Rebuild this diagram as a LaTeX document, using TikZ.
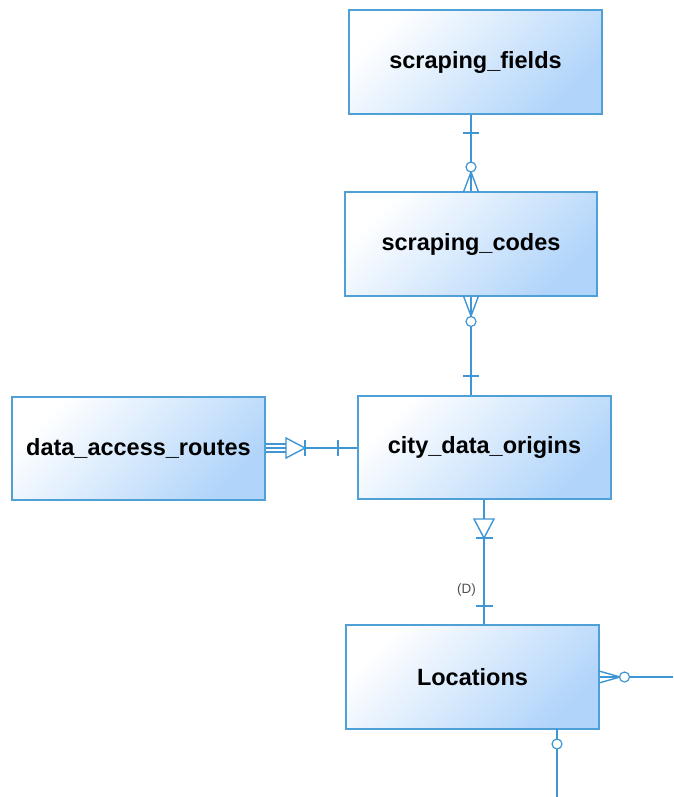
\documentclass[tikz,border=0pt]{standalone}
\usepackage{fontspec}
\setmainfont{Liberation Sans}
\usetikzlibrary{calc}
\begin{document}
\begin{tikzpicture}[x=1pt,y=-1pt,
  every node/.style={font=\bfseries\fontsize{23.5}{27}\selectfont},
  entity/.style={draw=boxedge, line width=1.1pt, left color=white, right color=boxblue, shading angle=45,
    minimum width=253pt, minimum height=104pt, inner sep=0pt, text=black},
  conn/.style={draw=linecol, line width=1.4pt},
  ring/.style={draw=linecol, line width=1.2pt, fill=white}]
\definecolor{boxedge}{RGB}{80,160,216}
\definecolor{boxblue}{RGB}{176,212,250}
\definecolor{linecol}{RGB}{62,150,212}
\useasboundingbox (0,0) rectangle (673,797);
\fill[white] (0,0) rectangle (673,797);

\node[entity] (sf) at (475.5,62) {scraping\_fields};
\node[entity, minimum width=252pt] (sc) at (471,244) {scraping\_codes};
\node[entity, minimum height=103pt] (cdo) at (484.5,447.5) {city\_data\_origins};
\node[entity, minimum height=103pt] (dar) at (138.5,448.5) {data\_access\_routes};
\node[entity] (loc) at (472.5,677) {Locations};

\coordinate (locR) at (673,677);
\coordinate (locB1) at (557,729);
\coordinate (locB2) at (557,797);

% scraping_fields -- scraping_codes
\draw[conn] (sc.north |- sf.south) -- (sc.north);
\draw[conn] (463,133) -- (479,133);
\draw[conn] (471,172) -- (463.5,192) (471,172) -- (478.5,192);
\draw[ring] (471,167) circle (5);

% scraping_codes -- city_data_origins
\draw[conn] (sc.south) -- (sc.south |- cdo.north);
\draw[conn] (463.5,296) -- (471,316) (478.5,296) -- (471,316);
\draw[conn] (463,376) -- (479,376);
\draw[ring] (471,321.5) circle (5);

% data_access_routes -- city_data_origins
\draw[conn] (305,448) -- (cdo.west |- 0,448);
\draw[conn] (dar.east |- 0,448) -- (286,448);
\draw[conn] (dar.east |- 0,444) -- (286,444);
\draw[conn] (dar.east |- 0,452) -- (286,452);
\draw[conn, fill=white] (286,438) -- (305,448) -- (286,458) -- cycle;
\draw[conn] (305,440) -- (305,456);
\draw[conn] (338,440) -- (338,456);

% city_data_origins -- Locations
\draw[conn] ([xshift=-0.5pt]cdo.south) -- ([xshift=-0.5pt]cdo.south |- loc.north);
\draw[conn, fill=white] (474,519) -- (494,519) -- (484,538) -- cycle;
\draw[conn] (476,538) -- (493,538);
\draw[conn] (476,606) -- (493,606);
\node[font=\fontsize{13.5}{15}\selectfont, text={rgb,255:red,80;green,80;blue,80}] (dlab) at (466.5,590) {(D)};

% Locations right
\draw[conn] (loc.east) -- (locR);
\draw[conn] (599,671) -- (620,677) (599,683) -- (620,677);
\draw[ring] (624.5,677) circle (5);

% Locations bottom
\draw[conn] (locB1) -- (locB2);
\draw[ring] (557,744) circle (5);
\end{tikzpicture}
\end{document}
